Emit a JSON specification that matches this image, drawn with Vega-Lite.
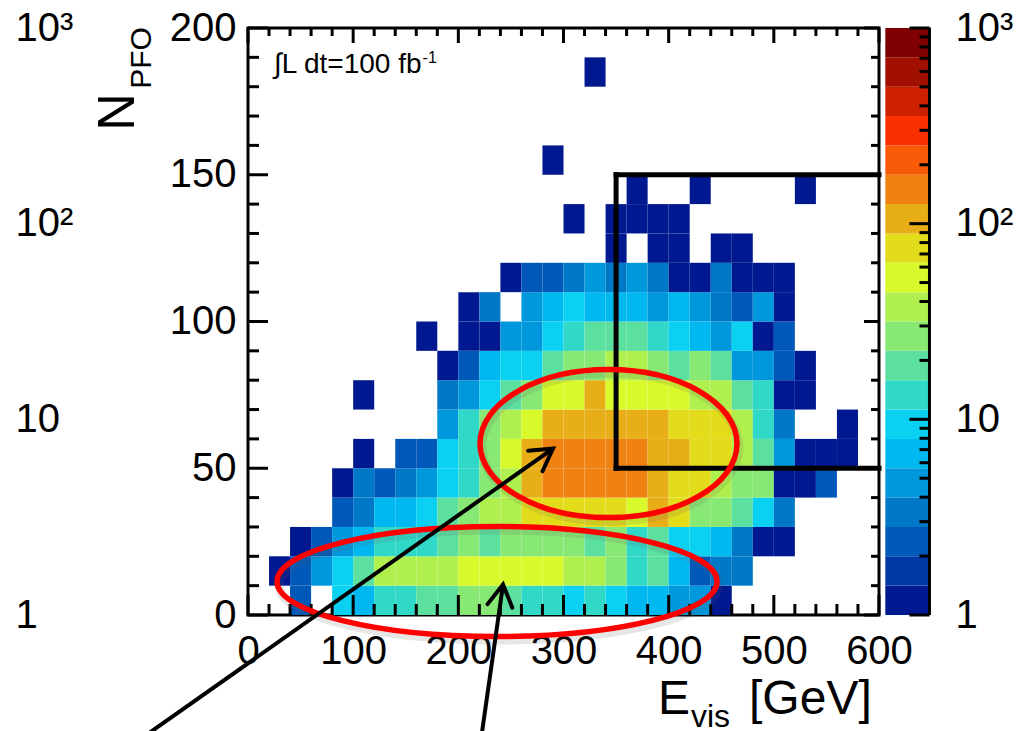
{
"$schema": "https://vega.github.io/schema/vega-lite/v6.json",
"width": 631, "height": 587,
"autosize": {"type": "none"},
"padding": {"left": 248, "top": 28, "right": 144, "bottom": 116},
"background": "white",
"config": {
  "view": {"stroke": "black", "strokeWidth": 3},
  "axis": {"grid": false, "domain": false, "ticks": false, "labelFont": "Liberation Sans", "labelFontSize": 40, "labelColor": "black", "labelFlush": false, "labelOverlap": false},
  "text": {"font": "Liberation Sans", "color": "black"},
  "rule": {"color": "black"}
},
"datasets": {
  "hist": [
{"e":20,"e2":40,"n":10,"n2":20,"c":1},
{"e":40,"e2":60,"n":0,"n2":10,"c":2.4},{"e":40,"e2":60,"n":10,"n2":20,"c":2.4},{"e":40,"e2":60,"n":20,"n2":30,"c":1},
{"e":60,"e2":80,"n":10,"n2":20,"c":4.7},{"e":60,"e2":80,"n":20,"n2":30,"c":2.4},
{"e":80,"e2":100,"n":0,"n2":10,"c":9.4},{"e":80,"e2":100,"n":10,"n2":20,"c":9.4},{"e":80,"e2":100,"n":20,"n2":30,"c":4.7},{"e":80,"e2":100,"n":30,"n2":40,"c":2.4},{"e":80,"e2":100,"n":40,"n2":50,"c":1},
{"e":100,"e2":120,"n":0,"n2":10,"c":6.7},{"e":100,"e2":120,"n":10,"n2":20,"c":19},{"e":100,"e2":120,"n":20,"n2":30,"c":6.7},{"e":100,"e2":120,"n":30,"n2":40,"c":3.4},{"e":100,"e2":120,"n":40,"n2":50,"c":3.4},{"e":100,"e2":120,"n":50,"n2":60,"c":1},{"e":100,"e2":120,"n":70,"n2":80,"c":1},
{"e":120,"e2":140,"n":0,"n2":10,"c":13},{"e":120,"e2":140,"n":10,"n2":20,"c":38},{"e":120,"e2":140,"n":20,"n2":30,"c":13},{"e":120,"e2":140,"n":30,"n2":40,"c":6.7},{"e":120,"e2":140,"n":40,"n2":50,"c":2.4},
{"e":140,"e2":160,"n":0,"n2":10,"c":13},{"e":140,"e2":160,"n":10,"n2":20,"c":38},{"e":140,"e2":160,"n":20,"n2":30,"c":13},{"e":140,"e2":160,"n":30,"n2":40,"c":6.7},{"e":140,"e2":160,"n":40,"n2":50,"c":3.4},{"e":140,"e2":160,"n":50,"n2":60,"c":2.4},
{"e":160,"e2":180,"n":0,"n2":10,"c":19},{"e":160,"e2":180,"n":10,"n2":20,"c":38},{"e":160,"e2":180,"n":20,"n2":30,"c":13},{"e":160,"e2":180,"n":30,"n2":40,"c":9.4},{"e":160,"e2":180,"n":40,"n2":50,"c":4.7},{"e":160,"e2":180,"n":50,"n2":60,"c":2.4},{"e":160,"e2":180,"n":90,"n2":100,"c":1},
{"e":180,"e2":200,"n":0,"n2":10,"c":19},{"e":180,"e2":200,"n":10,"n2":20,"c":38},{"e":180,"e2":200,"n":20,"n2":30,"c":19},{"e":180,"e2":200,"n":30,"n2":40,"c":19},{"e":180,"e2":200,"n":40,"n2":50,"c":9.4},{"e":180,"e2":200,"n":50,"n2":60,"c":9.4},{"e":180,"e2":200,"n":60,"n2":70,"c":4.7},{"e":180,"e2":200,"n":70,"n2":80,"c":3.4},{"e":180,"e2":200,"n":80,"n2":90,"c":1},
{"e":200,"e2":220,"n":0,"n2":10,"c":27},{"e":200,"e2":220,"n":10,"n2":20,"c":53},{"e":200,"e2":220,"n":20,"n2":30,"c":27},{"e":200,"e2":220,"n":30,"n2":40,"c":27},{"e":200,"e2":220,"n":40,"n2":50,"c":13},{"e":200,"e2":220,"n":50,"n2":60,"c":13},{"e":200,"e2":220,"n":60,"n2":70,"c":13},{"e":200,"e2":220,"n":70,"n2":80,"c":4.7},{"e":200,"e2":220,"n":80,"n2":90,"c":2.4},{"e":200,"e2":220,"n":90,"n2":100,"c":1},{"e":200,"e2":220,"n":100,"n2":110,"c":1},
{"e":220,"e2":240,"n":0,"n2":10,"c":27},{"e":220,"e2":240,"n":10,"n2":20,"c":53},{"e":220,"e2":240,"n":20,"n2":30,"c":19},{"e":220,"e2":240,"n":30,"n2":40,"c":38},{"e":220,"e2":240,"n":40,"n2":50,"c":27},{"e":220,"e2":240,"n":50,"n2":60,"c":27},{"e":220,"e2":240,"n":60,"n2":70,"c":27},{"e":220,"e2":240,"n":70,"n2":80,"c":9.4},{"e":220,"e2":240,"n":80,"n2":90,"c":6.7},{"e":220,"e2":240,"n":90,"n2":100,"c":1},{"e":220,"e2":240,"n":100,"n2":110,"c":3.4},
{"e":240,"e2":260,"n":0,"n2":10,"c":19},{"e":240,"e2":260,"n":10,"n2":20,"c":53},{"e":240,"e2":260,"n":20,"n2":30,"c":27},{"e":240,"e2":260,"n":30,"n2":40,"c":38},{"e":240,"e2":260,"n":40,"n2":50,"c":38},{"e":240,"e2":260,"n":50,"n2":60,"c":53},{"e":240,"e2":260,"n":60,"n2":70,"c":38},{"e":240,"e2":260,"n":70,"n2":80,"c":19},{"e":240,"e2":260,"n":80,"n2":90,"c":9.4},{"e":240,"e2":260,"n":90,"n2":100,"c":4.7},{"e":240,"e2":260,"n":110,"n2":120,"c":1},
{"e":260,"e2":280,"n":0,"n2":10,"c":13},{"e":260,"e2":280,"n":10,"n2":20,"c":53},{"e":260,"e2":280,"n":20,"n2":30,"c":27},{"e":260,"e2":280,"n":30,"n2":40,"c":75},{"e":260,"e2":280,"n":40,"n2":50,"c":106},{"e":260,"e2":280,"n":50,"n2":60,"c":106},{"e":260,"e2":280,"n":60,"n2":70,"c":53},{"e":260,"e2":280,"n":70,"n2":80,"c":27},{"e":260,"e2":280,"n":80,"n2":90,"c":9.4},{"e":260,"e2":280,"n":90,"n2":100,"c":4.7},{"e":260,"e2":280,"n":100,"n2":110,"c":4.7},{"e":260,"e2":280,"n":110,"n2":120,"c":2.4},
{"e":280,"e2":300,"n":0,"n2":10,"c":13},{"e":280,"e2":300,"n":10,"n2":20,"c":53},{"e":280,"e2":300,"n":20,"n2":30,"c":27},{"e":280,"e2":300,"n":30,"n2":40,"c":75},{"e":280,"e2":300,"n":40,"n2":50,"c":150},{"e":280,"e2":300,"n":50,"n2":60,"c":150},{"e":280,"e2":300,"n":60,"n2":70,"c":106},{"e":280,"e2":300,"n":70,"n2":80,"c":53},{"e":280,"e2":300,"n":80,"n2":90,"c":19},{"e":280,"e2":300,"n":90,"n2":100,"c":9.4},{"e":280,"e2":300,"n":100,"n2":110,"c":6.7},{"e":280,"e2":300,"n":110,"n2":120,"c":2.4},{"e":280,"e2":300,"n":150,"n2":160,"c":1},
{"e":300,"e2":320,"n":0,"n2":10,"c":9.4},{"e":300,"e2":320,"n":10,"n2":20,"c":38},{"e":300,"e2":320,"n":20,"n2":30,"c":27},{"e":300,"e2":320,"n":30,"n2":40,"c":75},{"e":300,"e2":320,"n":40,"n2":50,"c":150},{"e":300,"e2":320,"n":50,"n2":60,"c":150},{"e":300,"e2":320,"n":60,"n2":70,"c":106},{"e":300,"e2":320,"n":70,"n2":80,"c":53},{"e":300,"e2":320,"n":80,"n2":90,"c":27},{"e":300,"e2":320,"n":90,"n2":100,"c":13},{"e":300,"e2":320,"n":100,"n2":110,"c":9.4},{"e":300,"e2":320,"n":110,"n2":120,"c":3.4},{"e":300,"e2":320,"n":130,"n2":140,"c":1},
{"e":320,"e2":340,"n":0,"n2":10,"c":13},{"e":320,"e2":340,"n":10,"n2":20,"c":38},{"e":320,"e2":340,"n":20,"n2":30,"c":19},{"e":320,"e2":340,"n":30,"n2":40,"c":75},{"e":320,"e2":340,"n":40,"n2":50,"c":150},{"e":320,"e2":340,"n":50,"n2":60,"c":150},{"e":320,"e2":340,"n":60,"n2":70,"c":106},{"e":320,"e2":340,"n":70,"n2":80,"c":106},{"e":320,"e2":340,"n":80,"n2":90,"c":27},{"e":320,"e2":340,"n":90,"n2":100,"c":19},{"e":320,"e2":340,"n":100,"n2":110,"c":6.7},{"e":320,"e2":340,"n":110,"n2":120,"c":4.7},{"e":320,"e2":340,"n":180,"n2":190,"c":1},
{"e":340,"e2":360,"n":0,"n2":10,"c":9.4},{"e":340,"e2":360,"n":10,"n2":20,"c":27},{"e":340,"e2":360,"n":20,"n2":30,"c":27},{"e":340,"e2":360,"n":30,"n2":40,"c":75},{"e":340,"e2":360,"n":40,"n2":50,"c":150},{"e":340,"e2":360,"n":50,"n2":60,"c":150},{"e":340,"e2":360,"n":60,"n2":70,"c":106},{"e":340,"e2":360,"n":70,"n2":80,"c":53},{"e":340,"e2":360,"n":80,"n2":90,"c":38},{"e":340,"e2":360,"n":90,"n2":100,"c":19},{"e":340,"e2":360,"n":100,"n2":110,"c":6.7},{"e":340,"e2":360,"n":110,"n2":120,"c":3.4},{"e":340,"e2":360,"n":120,"n2":130,"c":1},{"e":340,"e2":360,"n":130,"n2":140,"c":1},
{"e":360,"e2":380,"n":0,"n2":10,"c":6.7},{"e":360,"e2":380,"n":10,"n2":20,"c":13},{"e":360,"e2":380,"n":20,"n2":30,"c":13},{"e":360,"e2":380,"n":30,"n2":40,"c":53},{"e":360,"e2":380,"n":40,"n2":50,"c":150},{"e":360,"e2":380,"n":50,"n2":60,"c":150},{"e":360,"e2":380,"n":60,"n2":70,"c":106},{"e":360,"e2":380,"n":70,"n2":80,"c":53},{"e":360,"e2":380,"n":80,"n2":90,"c":38},{"e":360,"e2":380,"n":90,"n2":100,"c":19},{"e":360,"e2":380,"n":100,"n2":110,"c":6.7},{"e":360,"e2":380,"n":110,"n2":120,"c":4.7},{"e":360,"e2":380,"n":130,"n2":140,"c":1},{"e":360,"e2":380,"n":140,"n2":150,"c":1},
{"e":380,"e2":400,"n":0,"n2":10,"c":6.7},{"e":380,"e2":400,"n":10,"n2":20,"c":19},{"e":380,"e2":400,"n":20,"n2":30,"c":19},{"e":380,"e2":400,"n":30,"n2":40,"c":106},{"e":380,"e2":400,"n":40,"n2":50,"c":106},{"e":380,"e2":400,"n":50,"n2":60,"c":106},{"e":380,"e2":400,"n":60,"n2":70,"c":106},{"e":380,"e2":400,"n":70,"n2":80,"c":53},{"e":380,"e2":400,"n":80,"n2":90,"c":27},{"e":380,"e2":400,"n":90,"n2":100,"c":13},{"e":380,"e2":400,"n":100,"n2":110,"c":4.7},{"e":380,"e2":400,"n":110,"n2":120,"c":3.4},{"e":380,"e2":400,"n":120,"n2":130,"c":1},{"e":380,"e2":400,"n":130,"n2":140,"c":1},
{"e":400,"e2":420,"n":0,"n2":10,"c":4.7},{"e":400,"e2":420,"n":10,"n2":20,"c":6.7},{"e":400,"e2":420,"n":20,"n2":30,"c":9.4},{"e":400,"e2":420,"n":30,"n2":40,"c":75},{"e":400,"e2":420,"n":40,"n2":50,"c":75},{"e":400,"e2":420,"n":50,"n2":60,"c":106},{"e":400,"e2":420,"n":60,"n2":70,"c":75},{"e":400,"e2":420,"n":70,"n2":80,"c":53},{"e":400,"e2":420,"n":80,"n2":90,"c":19},{"e":400,"e2":420,"n":90,"n2":100,"c":9.4},{"e":400,"e2":420,"n":100,"n2":110,"c":6.7},{"e":400,"e2":420,"n":110,"n2":120,"c":1},{"e":400,"e2":420,"n":120,"n2":130,"c":1},{"e":400,"e2":420,"n":130,"n2":140,"c":1},
{"e":420,"e2":440,"n":0,"n2":10,"c":4.7},{"e":420,"e2":440,"n":10,"n2":20,"c":2.4},{"e":420,"e2":440,"n":20,"n2":30,"c":9.4},{"e":420,"e2":440,"n":30,"n2":40,"c":27},{"e":420,"e2":440,"n":40,"n2":50,"c":75},{"e":420,"e2":440,"n":50,"n2":60,"c":75},{"e":420,"e2":440,"n":60,"n2":70,"c":75},{"e":420,"e2":440,"n":70,"n2":80,"c":38},{"e":420,"e2":440,"n":80,"n2":90,"c":27},{"e":420,"e2":440,"n":90,"n2":100,"c":6.7},{"e":420,"e2":440,"n":100,"n2":110,"c":4.7},{"e":420,"e2":440,"n":110,"n2":120,"c":1},{"e":420,"e2":440,"n":140,"n2":150,"c":1},
{"e":440,"e2":460,"n":0,"n2":10,"c":1},{"e":440,"e2":460,"n":10,"n2":20,"c":3.4},{"e":440,"e2":460,"n":20,"n2":30,"c":6.7},{"e":440,"e2":460,"n":30,"n2":40,"c":27},{"e":440,"e2":460,"n":40,"n2":50,"c":38},{"e":440,"e2":460,"n":50,"n2":60,"c":75},{"e":440,"e2":460,"n":60,"n2":70,"c":75},{"e":440,"e2":460,"n":70,"n2":80,"c":38},{"e":440,"e2":460,"n":80,"n2":90,"c":19},{"e":440,"e2":460,"n":90,"n2":100,"c":4.7},{"e":440,"e2":460,"n":100,"n2":110,"c":3.4},{"e":440,"e2":460,"n":110,"n2":120,"c":3.4},{"e":440,"e2":460,"n":120,"n2":130,"c":1},
{"e":460,"e2":480,"n":10,"n2":20,"c":3.4},{"e":460,"e2":480,"n":20,"n2":30,"c":3.4},{"e":460,"e2":480,"n":30,"n2":40,"c":19},{"e":460,"e2":480,"n":40,"n2":50,"c":27},{"e":460,"e2":480,"n":50,"n2":60,"c":38},{"e":460,"e2":480,"n":60,"n2":70,"c":38},{"e":460,"e2":480,"n":70,"n2":80,"c":19},{"e":460,"e2":480,"n":80,"n2":90,"c":4.7},{"e":460,"e2":480,"n":90,"n2":100,"c":9.4},{"e":460,"e2":480,"n":100,"n2":110,"c":2.4},{"e":460,"e2":480,"n":110,"n2":120,"c":1},{"e":460,"e2":480,"n":120,"n2":130,"c":1},
{"e":480,"e2":500,"n":20,"n2":30,"c":1},{"e":480,"e2":500,"n":30,"n2":40,"c":9.4},{"e":480,"e2":500,"n":40,"n2":50,"c":27},{"e":480,"e2":500,"n":50,"n2":60,"c":19},{"e":480,"e2":500,"n":60,"n2":70,"c":13},{"e":480,"e2":500,"n":70,"n2":80,"c":13},{"e":480,"e2":500,"n":80,"n2":90,"c":4.7},{"e":480,"e2":500,"n":90,"n2":100,"c":1},{"e":480,"e2":500,"n":100,"n2":110,"c":4.7},{"e":480,"e2":500,"n":110,"n2":120,"c":1},
{"e":500,"e2":520,"n":20,"n2":30,"c":1},{"e":500,"e2":520,"n":30,"n2":40,"c":3.4},{"e":500,"e2":520,"n":40,"n2":50,"c":1},{"e":500,"e2":520,"n":50,"n2":60,"c":4.7},{"e":500,"e2":520,"n":60,"n2":70,"c":3.4},{"e":500,"e2":520,"n":70,"n2":80,"c":1},{"e":500,"e2":520,"n":80,"n2":90,"c":2.4},{"e":500,"e2":520,"n":90,"n2":100,"c":2.4},{"e":500,"e2":520,"n":100,"n2":110,"c":1},{"e":500,"e2":520,"n":110,"n2":120,"c":1},
{"e":520,"e2":540,"n":40,"n2":50,"c":1},{"e":520,"e2":540,"n":50,"n2":60,"c":1},{"e":520,"e2":540,"n":70,"n2":80,"c":1},{"e":520,"e2":540,"n":80,"n2":90,"c":1},{"e":520,"e2":540,"n":140,"n2":150,"c":1},
{"e":540,"e2":560,"n":40,"n2":50,"c":2.4},{"e":540,"e2":560,"n":50,"n2":60,"c":1},
{"e":560,"e2":580,"n":50,"n2":60,"c":1},{"e":560,"e2":580,"n":60,"n2":70,"c":1}
  ],
  "bar": [
{"lo":1,"hi":1.413,"c":1},{"lo":1.413,"hi":1.995,"c":1.7},{"lo":1.995,"hi":2.818,"c":2.4},{"lo":2.818,"hi":3.981,"c":3.4},{"lo":3.981,"hi":5.623,"c":4.7},
{"lo":5.623,"hi":7.943,"c":6.7},{"lo":7.943,"hi":11.22,"c":9.4},{"lo":11.22,"hi":15.85,"c":13},{"lo":15.85,"hi":22.39,"c":19},{"lo":22.39,"hi":31.62,"c":27},
{"lo":31.62,"hi":44.67,"c":38},{"lo":44.67,"hi":63.1,"c":53},{"lo":63.1,"hi":89.13,"c":75},{"lo":89.13,"hi":125.9,"c":106},{"lo":125.9,"hi":177.8,"c":150},
{"lo":177.8,"hi":251.2,"c":211},{"lo":251.2,"hi":354.8,"c":299},{"lo":354.8,"hi":501.2,"c":422},{"lo":501.2,"hi":707.9,"c":596},{"lo":707.9,"hi":1000,"c":841}
  ],
  "box": [{"x0":350,"y0":50,"x1":350,"y1":150},{"x0":350,"y0":150,"x1":600,"y1":150},{"x0":350,"y0":50,"x1":600,"y1":50}],
  "arrows": [{"x0":-93.2,"y0":-40,"x1":290.0,"y1":56.7},{"x0":222.5,"y0":-40,"x1":242.5,"y1":10.4}],
  "xmaj": [{"v":0,"lo":0,"hi":200},{"v":100,"lo":0,"hi":200},{"v":200,"lo":0,"hi":200},{"v":300,"lo":0,"hi":200},{"v":400,"lo":0,"hi":200},{"v":500,"lo":0,"hi":200},{"v":600,"lo":0,"hi":200}],
  "xmin": [{"v":20,"lo":0,"hi":200},{"v":40,"lo":0,"hi":200},{"v":60,"lo":0,"hi":200},{"v":80,"lo":0,"hi":200},{"v":120,"lo":0,"hi":200},{"v":140,"lo":0,"hi":200},{"v":160,"lo":0,"hi":200},{"v":180,"lo":0,"hi":200},{"v":220,"lo":0,"hi":200},{"v":240,"lo":0,"hi":200},{"v":260,"lo":0,"hi":200},{"v":280,"lo":0,"hi":200},{"v":320,"lo":0,"hi":200},{"v":340,"lo":0,"hi":200},{"v":360,"lo":0,"hi":200},{"v":380,"lo":0,"hi":200},{"v":420,"lo":0,"hi":200},{"v":440,"lo":0,"hi":200},{"v":460,"lo":0,"hi":200},{"v":480,"lo":0,"hi":200},{"v":520,"lo":0,"hi":200},{"v":540,"lo":0,"hi":200},{"v":560,"lo":0,"hi":200},{"v":580,"lo":0,"hi":200}],
  "ymaj": [{"v":0,"lo":0,"hi":600},{"v":50,"lo":0,"hi":600},{"v":100,"lo":0,"hi":600},{"v":150,"lo":0,"hi":600},{"v":200,"lo":0,"hi":600}],
  "ymin": [{"v":10,"lo":0,"hi":600},{"v":20,"lo":0,"hi":600},{"v":30,"lo":0,"hi":600},{"v":40,"lo":0,"hi":600},{"v":60,"lo":0,"hi":600},{"v":70,"lo":0,"hi":600},{"v":80,"lo":0,"hi":600},{"v":90,"lo":0,"hi":600},{"v":110,"lo":0,"hi":600},{"v":120,"lo":0,"hi":600},{"v":130,"lo":0,"hi":600},{"v":140,"lo":0,"hi":600},{"v":160,"lo":0,"hi":600},{"v":170,"lo":0,"hi":600},{"v":180,"lo":0,"hi":600},{"v":190,"lo":0,"hi":600}],
  "cmaj": [{"v":1,"x":648},{"v":10,"x":648},{"v":100,"x":648},{"v":1000,"x":648}],
  "cmin": [{"v":2,"x":648},{"v":3,"x":648},{"v":4,"x":648},{"v":5,"x":648},{"v":6,"x":648},{"v":7,"x":648},{"v":8,"x":648},{"v":9,"x":648},{"v":20,"x":648},{"v":30,"x":648},{"v":40,"x":648},{"v":50,"x":648},{"v":60,"x":648},{"v":70,"x":648},{"v":80,"x":648},{"v":90,"x":648},{"v":200,"x":648},{"v":300,"x":648},{"v":400,"x":648},{"v":500,"x":648},{"v":600,"x":648},{"v":700,"x":648},{"v":800,"x":648},{"v":900,"x":648}],
  "cedge": [{"x":648,"v":1}]
},
"layer": [
  {
    "data": {"name": "hist"},
    "mark": {"type": "rect"},
    "encoding": {
      "x": {"field": "e", "type": "quantitative", "scale": {"domain": [0, 600], "nice": false, "zero": false},
            "axis": {"orient": "bottom", "title": null, "values": [0,100,200,300,400,500,600], "labelPadding": 16}},
      "x2": {"field": "e2"},
      "y": {"field": "n", "type": "quantitative", "scale": {"domain": [0, 200], "nice": false, "zero": false},
            "axis": {"orient": "left", "title": null, "values": [0,50,100,150,200], "labelPadding": 12}},
      "y2": {"field": "n2"},
      "color": {"field": "c", "type": "quantitative",
                "scale": {"type": "threshold", "domain": [1.41,2,2.82,3.98,5.62,7.94,11.2,15.8,22.4,31.6,44.7,63.1,89.1,126,178,251,355,501,708],
                          "range": ["#001890","#0038a4","#0058b8","#0078c8","#0098dc","#00b8f0","#0ad0f2","#30d8c8","#5ce0a0","#88e874","#b0f04e","#d8f92a","#e2dc1a","#e8ae18","#f08212","#f85a08","#fb3000","#cc2000","#a00f00","#7f0000"]},
                "legend": null}
    }
  },
  {
    "data": {"name": "xmaj"},
    "mark": {"type": "point", "shape": "M 0 0 L 0 -1", "size": 1600, "filled": false, "stroke": "black", "strokeWidth": 3, "opacity": 1},
    "encoding": {"x": {"field": "v", "type": "quantitative", "scale": {"domain": [0, 600], "nice": false, "zero": false}, "axis": null},
                 "y": {"field": "lo", "type": "quantitative", "scale": {"domain": [0, 200], "nice": false, "zero": false}, "axis": null}}
  },
  {
    "data": {"name": "xmin"},
    "mark": {"type": "point", "shape": "M 0 0 L 0 -1", "size": 484, "filled": false, "stroke": "black", "strokeWidth": 3, "opacity": 1},
    "encoding": {"x": {"field": "v", "type": "quantitative", "scale": {"domain": [0, 600], "nice": false, "zero": false}, "axis": null},
                 "y": {"field": "lo", "type": "quantitative", "scale": {"domain": [0, 200], "nice": false, "zero": false}, "axis": null}}
  },
  {
    "data": {"name": "xmaj"},
    "mark": {"type": "point", "shape": "M 0 0 L 0 1", "size": 900, "filled": false, "stroke": "black", "strokeWidth": 3, "opacity": 1},
    "encoding": {"x": {"field": "v", "type": "quantitative", "scale": {"domain": [0, 600], "nice": false, "zero": false}, "axis": null},
                 "y": {"field": "hi", "type": "quantitative", "scale": {"domain": [0, 200], "nice": false, "zero": false}, "axis": null}}
  },
  {
    "data": {"name": "xmin"},
    "mark": {"type": "point", "shape": "M 0 0 L 0 1", "size": 256, "filled": false, "stroke": "black", "strokeWidth": 3, "opacity": 1},
    "encoding": {"x": {"field": "v", "type": "quantitative", "scale": {"domain": [0, 600], "nice": false, "zero": false}, "axis": null},
                 "y": {"field": "hi", "type": "quantitative", "scale": {"domain": [0, 200], "nice": false, "zero": false}, "axis": null}}
  },
  {
    "data": {"name": "ymaj"},
    "mark": {"type": "point", "shape": "M 0 0 L 1 0", "size": 1600, "filled": false, "stroke": "black", "strokeWidth": 3, "opacity": 1},
    "encoding": {"y": {"field": "v", "type": "quantitative", "scale": {"domain": [0, 200], "nice": false, "zero": false}, "axis": null},
                 "x": {"field": "lo", "type": "quantitative", "scale": {"domain": [0, 600], "nice": false, "zero": false}, "axis": null}}
  },
  {
    "data": {"name": "ymin"},
    "mark": {"type": "point", "shape": "M 0 0 L 1 0", "size": 484, "filled": false, "stroke": "black", "strokeWidth": 3, "opacity": 1},
    "encoding": {"y": {"field": "v", "type": "quantitative", "scale": {"domain": [0, 200], "nice": false, "zero": false}, "axis": null},
                 "x": {"field": "lo", "type": "quantitative", "scale": {"domain": [0, 600], "nice": false, "zero": false}, "axis": null}}
  },
  {
    "data": {"name": "ymaj"},
    "mark": {"type": "point", "shape": "M 0 0 L -1 0", "size": 900, "filled": false, "stroke": "black", "strokeWidth": 3, "opacity": 1},
    "encoding": {"y": {"field": "v", "type": "quantitative", "scale": {"domain": [0, 200], "nice": false, "zero": false}, "axis": null},
                 "x": {"field": "hi", "type": "quantitative", "scale": {"domain": [0, 600], "nice": false, "zero": false}, "axis": null}}
  },
  {
    "data": {"name": "ymin"},
    "mark": {"type": "point", "shape": "M 0 0 L -1 0", "size": 256, "filled": false, "stroke": "black", "strokeWidth": 3, "opacity": 1},
    "encoding": {"y": {"field": "v", "type": "quantitative", "scale": {"domain": [0, 200], "nice": false, "zero": false}, "axis": null},
                 "x": {"field": "hi", "type": "quantitative", "scale": {"domain": [0, 600], "nice": false, "zero": false}, "axis": null}}
  },
  {
    "data": {"name": "box"},
    "mark": {"type": "rule", "strokeWidth": 5, "strokeCap": "square"},
    "encoding": {
      "x": {"field": "x0", "type": "quantitative", "scale": {"domain": [0, 600], "nice": false, "zero": false}, "axis": null},
      "y": {"field": "y0", "type": "quantitative", "scale": {"domain": [0, 200], "nice": false, "zero": false}, "axis": null},
      "x2": {"field": "x1"}, "y2": {"field": "y1"}
    }
  },
  {
    "data": {"values": [{"e": 344.5, "n": 57.2}]},
    "mark": {"type": "point", "shape": "M -1 0 A 1 0.576 0 1 0 1 0 A 1 0.576 0 1 0 -1 0 Z", "size": 66049, "filled": false, "stroke": "#606060", "strokeWidth": 9, "opacity": 0.15},
    "encoding": {"x": {"field": "e", "type": "quantitative", "scale": {"domain": [0, 600], "nice": false, "zero": false}, "axis": null}, "y": {"field": "n", "type": "quantitative", "scale": {"domain": [0, 200], "nice": false, "zero": false}, "axis": null}}
  },
  {
    "data": {"values": [{"e": 238.5, "n": 10.2}]},
    "mark": {"type": "point", "shape": "M -1 0 A 1 0.25 0 1 0 1 0 A 1 0.25 0 1 0 -1 0 Z", "size": 193600, "filled": false, "stroke": "#606060", "strokeWidth": 9, "opacity": 0.15},
    "encoding": {"x": {"field": "e", "type": "quantitative", "scale": {"domain": [0, 600], "nice": false, "zero": false}, "axis": null}, "y": {"field": "n", "type": "quantitative", "scale": {"domain": [0, 200], "nice": false, "zero": false}, "axis": null}}
  },
  {
    "data": {"values": [{"e": 342.8, "n": 58.4}]},
    "mark": {"type": "point", "shape": "M -1 0 A 1 0.576 0 1 0 1 0 A 1 0.576 0 1 0 -1 0 Z", "size": 66049, "filled": false, "stroke": "#ff0000", "strokeWidth": 5.5, "opacity": 1},
    "encoding": {"x": {"field": "e", "type": "quantitative", "scale": {"domain": [0, 600], "nice": false, "zero": false}, "axis": null}, "y": {"field": "n", "type": "quantitative", "scale": {"domain": [0, 200], "nice": false, "zero": false}, "axis": null}}
  },
  {
    "data": {"values": [{"e": 236.8, "n": 11.4}]},
    "mark": {"type": "point", "shape": "M -1 0 A 1 0.25 0 1 0 1 0 A 1 0.25 0 1 0 -1 0 Z", "size": 193600, "filled": false, "stroke": "#ff0000", "strokeWidth": 5.5, "opacity": 1},
    "encoding": {"x": {"field": "e", "type": "quantitative", "scale": {"domain": [0, 600], "nice": false, "zero": false}, "axis": null}, "y": {"field": "n", "type": "quantitative", "scale": {"domain": [0, 200], "nice": false, "zero": false}, "axis": null}}
  },
  {
    "data": {"name": "arrows"},
    "mark": {"type": "rule", "strokeWidth": 4},
    "encoding": {
      "x": {"field": "x0", "type": "quantitative", "scale": {"domain": [0, 600], "nice": false, "zero": false}, "axis": null},
      "y": {"field": "y0", "type": "quantitative", "scale": {"domain": [0, 200], "nice": false, "zero": false}, "axis": null},
      "x2": {"field": "x1"}, "y2": {"field": "y1"}
    }
  },
  {
    "data": {"values": [{"e": 290.0, "n": 56.7}]},
    "mark": {"type": "point", "shape": "M -0.5 0.866 L 0 0 L 0.5 0.866", "size": 2500, "angle": 54.8, "filled": false, "stroke": "black", "strokeWidth": 4, "strokeCap": "round", "opacity": 1},
    "encoding": {"x": {"field": "e", "type": "quantitative", "scale": {"domain": [0, 600], "nice": false, "zero": false}, "axis": null}, "y": {"field": "n", "type": "quantitative", "scale": {"domain": [0, 200], "nice": false, "zero": false}, "axis": null}}
  },
  {
    "data": {"values": [{"e": 242.5, "n": 10.4}]},
    "mark": {"type": "point", "shape": "M -0.5 0.866 L 0 0 L 0.5 0.866", "size": 2500, "angle": 8.2, "filled": false, "stroke": "black", "strokeWidth": 4, "strokeCap": "round", "opacity": 1},
    "encoding": {"x": {"field": "e", "type": "quantitative", "scale": {"domain": [0, 600], "nice": false, "zero": false}, "axis": null}, "y": {"field": "n", "type": "quantitative", "scale": {"domain": [0, 200], "nice": false, "zero": false}, "axis": null}}
  },
  {
    "data": {"values": [{"e": 389.8, "n": -33.9, "t": "E"}, {"e": 476.4, "n": -33.9, "t": "[GeV]"}]},
    "mark": {"type": "text", "fontSize": 48, "align": "left", "baseline": "alphabetic", "font": "Liberation Sans"},
    "encoding": {"x": {"field": "e", "type": "quantitative", "scale": {"domain": [0, 600], "nice": false, "zero": false}, "axis": null}, "y": {"field": "n", "type": "quantitative", "scale": {"domain": [0, 200], "nice": false, "zero": false}, "axis": null}, "text": {"field": "t"}}
  },
  {
    "data": {"values": [{"e": 421.2, "n": -38.2, "t": "vis"}]},
    "mark": {"type": "text", "fontSize": 32, "align": "left", "baseline": "alphabetic", "font": "Liberation Sans"},
    "encoding": {"x": {"field": "e", "type": "quantitative", "scale": {"domain": [0, 600], "nice": false, "zero": false}, "axis": null}, "y": {"field": "n", "type": "quantitative", "scale": {"domain": [0, 200], "nice": false, "zero": false}, "axis": null}, "text": {"field": "t"}}
  },
  {
    "data": {"values": [{"e": -123.6, "n": 171.4, "t": "N"}]},
    "mark": {"type": "text", "fontSize": 52, "angle": 270, "align": "center", "baseline": "middle", "font": "Liberation Sans"},
    "encoding": {"x": {"field": "e", "type": "quantitative", "scale": {"domain": [0, 600], "nice": false, "zero": false}, "axis": null}, "y": {"field": "n", "type": "quantitative", "scale": {"domain": [0, 200], "nice": false, "zero": false}, "axis": null}, "text": {"field": "t"}}
  },
  {
    "data": {"values": [{"e": -100.8, "n": 189.8, "t": "PFO"}]},
    "mark": {"type": "text", "fontSize": 30, "angle": 270, "align": "center", "baseline": "middle", "font": "Liberation Sans"},
    "encoding": {"x": {"field": "e", "type": "quantitative", "scale": {"domain": [0, 600], "nice": false, "zero": false}, "axis": null}, "y": {"field": "n", "type": "quantitative", "scale": {"domain": [0, 200], "nice": false, "zero": false}, "axis": null}, "text": {"field": "t"}}
  },
  {
    "data": {"values": [{"e": 24.7, "n": 184.8, "t": "∫L dt=100 fb"}]},
    "mark": {"type": "text", "fontSize": 28, "align": "left", "baseline": "alphabetic", "font": "Liberation Sans"},
    "encoding": {"x": {"field": "e", "type": "quantitative", "scale": {"domain": [0, 600], "nice": false, "zero": false}, "axis": null}, "y": {"field": "n", "type": "quantitative", "scale": {"domain": [0, 200], "nice": false, "zero": false}, "axis": null}, "text": {"field": "t"}}
  },
  {
    "data": {"values": [{"e": 166.0, "n": 188.2, "t": "-1"}]},
    "mark": {"type": "text", "fontSize": 16, "align": "left", "baseline": "alphabetic", "font": "Liberation Sans"},
    "encoding": {"x": {"field": "e", "type": "quantitative", "scale": {"domain": [0, 600], "nice": false, "zero": false}, "axis": null}, "y": {"field": "n", "type": "quantitative", "scale": {"domain": [0, 200], "nice": false, "zero": false}, "axis": null}, "text": {"field": "t"}}
  },
  {
    "data": {"name": "bar"},
    "mark": {"type": "rect"},
    "encoding": {
      "x": {"datum": 606, "type": "quantitative", "scale": {"domain": [0, 600], "nice": false, "zero": false}, "axis": null},
      "x2": {"datum": 648},
      "y": {"field": "lo", "type": "quantitative", "scale": {"type": "log", "domain": [1, 1000], "nice": false},
            "axis": {"orient": "right", "offset": 51, "title": null,
                     "values": [1, 10, 100, 1000],
                     "labelExpr": "datum.value === 1 ? '1' : datum.value === 10 ? '10' : datum.value === 100 ? '10²' : '10³'",
                     "labelPadding": 25, "labelAlign": "left", "labelBaseline": "middle"}},
      "y2": {"field": "hi"},
      "color": {"field": "c", "type": "quantitative",
                "scale": {"type": "threshold", "domain": [1.41,2,2.82,3.98,5.62,7.94,11.2,15.8,22.4,31.6,44.7,63.1,89.1,126,178,251,355,501,708],
                          "range": ["#001890","#0038a4","#0058b8","#0078c8","#0098dc","#00b8f0","#0ad0f2","#30d8c8","#5ce0a0","#88e874","#b0f04e","#d8f92a","#e2dc1a","#e8ae18","#f08212","#f85a08","#fb3000","#cc2000","#a00f00","#7f0000"]},
                "legend": null}
    }
  },
  {
    "data": {"name": "cmaj"},
    "mark": {"type": "point", "shape": "M 0 0 L -1 0", "size": 1600, "filled": false, "stroke": "black", "strokeWidth": 3, "opacity": 1},
    "encoding": {"y": {"field": "v", "type": "quantitative", "scale": {"type": "log", "domain": [1, 1000], "nice": false}, "axis": null},
                 "x": {"field": "x", "type": "quantitative", "scale": {"domain": [0, 600], "nice": false, "zero": false}, "axis": null}}
  },
  {
    "data": {"name": "cmin"},
    "mark": {"type": "point", "shape": "M 0 0 L -1 0", "size": 400, "filled": false, "stroke": "black", "strokeWidth": 3, "opacity": 1},
    "encoding": {"y": {"field": "v", "type": "quantitative", "scale": {"type": "log", "domain": [1, 1000], "nice": false}, "axis": null},
                 "x": {"field": "x", "type": "quantitative", "scale": {"domain": [0, 600], "nice": false, "zero": false}, "axis": null}}
  },
  {
    "data": {"name": "cedge"},
    "mark": {"type": "point", "shape": "M 0 0 L 0 -1", "size": 1380625, "filled": false, "stroke": "black", "strokeWidth": 3, "opacity": 1},
    "encoding": {"y": {"field": "v", "type": "quantitative", "scale": {"type": "log", "domain": [1, 1000], "nice": false}, "axis": null},
                 "x": {"field": "x", "type": "quantitative", "scale": {"domain": [0, 600], "nice": false, "zero": false}, "axis": null}}
  },
  {
    "data": {"name": "bar"},
    "mark": {"type": "point", "opacity": 0},
    "encoding": {
      "y": {"field": "lo", "type": "quantitative", "scale": {"type": "log", "domain": [1, 1000], "nice": false},
            "axis": {"orient": "left", "offset": 0, "title": null, "domain": false,
                     "values": [1, 10, 100, 1000],
                     "labelExpr": "datum.value === 1 ? '1' : datum.value === 10 ? '10' : datum.value === 100 ? '10²' : '10³'",
                     "labelPadding": 233, "labelAlign": "left", "labelBaseline": "middle"}}
    }
  }
],
"resolve": {"scale": {"x": "independent", "y": "independent"}, "axis": {"x": "independent", "y": "independent"}}
}
